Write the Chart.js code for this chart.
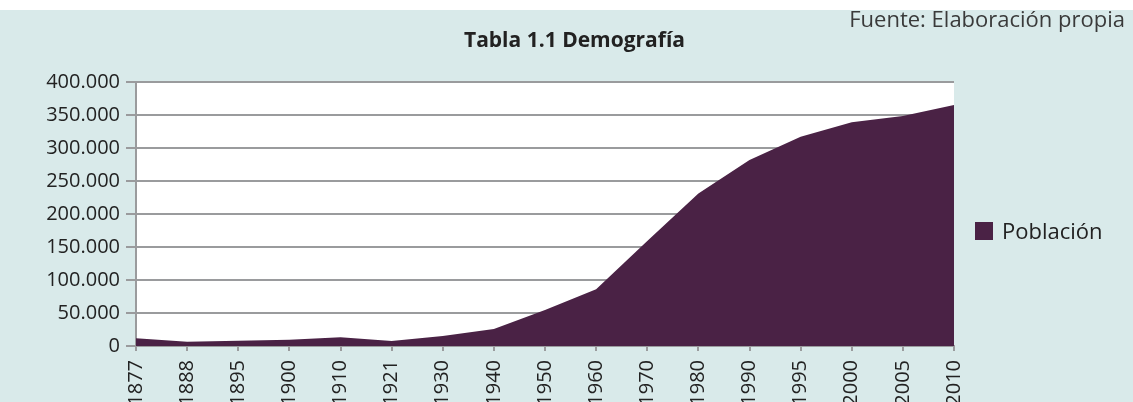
<!DOCTYPE html>
<html>
<head>
<meta charset="utf-8">
<script src="https://cdn.jsdelivr.net/npm/chart.js@4.4.1/dist/chart.umd.min.js"></script>
<style>
  html, body { margin: 0; padding: 0; background: #ffffff; }
  #wrap { position: absolute; left: 0; top: 10px; width: 1133px; height: 392px; background: #d9eaea; overflow: hidden; }
  #demografia { position: absolute; left: 0; top: 0; }
  #fuente { position: absolute; right: 8px; top: 1px; font: 22px "Open Sans", sans-serif; line-height: 14px; color: #3a3a3a; white-space: nowrap; }
  #legend { position: absolute; left: 975px; top: 209px; font: 22px "Open Sans", sans-serif; line-height: 22px; color: #222; white-space: nowrap; }
  #legend span.box { position: absolute; left: 0; top: 3px; width: 18px; height: 18px; background: #4a2245; }
  #legend span.txt { position: absolute; left: 27px; top: 0; }
</style>
</head>
<body>
<div id="wrap">
  <canvas id="demografia" width="1133" height="392"></canvas>
  <div id="fuente">Fuente: Elaboración propia</div>
  <div id="legend"><span class="box"></span><span class="txt">Población</span></div>
</div>
<script>
// datos
var years = ['1877', '1888', '1895', '1900', '1910', '1921', '1930', '1940', '1950',
             '1960', '1970', '1980', '1990', '1995', '2000', '2005', '2010'];
var poblacion = [11600, 6500, 8000, 9500, 13200, 7600, 15200, 25800, 54500,
                 86000, 159000, 231000, 282000, 317000, 339000, 348500, 365000];
var yMax = 400000;
var yStep = 50000;

function miles(v) {
    return String(v).replace(/\B(?=(\d{3})+(?!\d))/g, '.');
}

var fondoBlanco = {
    id: 'fondoBlanco',
    beforeDraw(chart) {
        var a = chart.chartArea;
        var ctx = chart.ctx;
        ctx.save();
        ctx.fillStyle = '#ffffff';
        ctx.fillRect(a.left, a.top, a.right - a.left, a.bottom - a.top);
        ctx.restore();
    }
};

var ctx = document.getElementById('demografia');
new Chart(ctx, {
    type: 'line',
    data: {
        labels: years,
        datasets: [{
            label: 'Población',
            data: poblacion,
            fill: 'origin',
            backgroundColor: '#4a2245',
            borderWidth: 0,
            pointRadius: 0,
            tension: 0
        }]
    },
    options: {
        responsive: false,
        animation: false,
        layout: { padding: { left: 16, right: 0, top: 0, bottom: 0 } },
        plugins: {
            legend: { display: false },
            tooltip: { enabled: false },
            title: {
                display: true,
                text: 'Tabla 1.1 Demografía',
                color: '#222',
                font: { family: 'Open Sans', size: 21, weight: 'bold', lineHeight: 1.2 },
                padding: { top: 18, bottom: 28.8 }
            }
        },
        scales: {
            x: {
                offset: false,
                grid: { drawOnChartArea: false, drawTicks: true, tickLength: 5, color: '#9a9b9d', lineWidth: 2 },
                border: { color: '#9a9b9d', width: 2 },
                ticks: {
                    autoSkip: false,
                    minRotation: 90,
                    maxRotation: 90,
                    padding: 9,
                    color: '#222',
                    font: { family: 'Open Sans', size: 20 }
                },
                afterFit(scale) { scale.height = 56; }
            },
            y: {
                min: 0,
                max: yMax,
                grid: { color: '#9a9b9d', lineWidth: 2, tickLength: 10 },
                border: { color: '#9a9b9d', width: 2 },
                ticks: {
                    stepSize: yStep,
                    padding: 6,
                    color: '#222',
                    font: { family: 'Open Sans', size: 20 },
                    callback: function (v) { return miles(v); }
                },
                afterFit(scale) { scale.width = 120; }
            },
            // eje vacio a la derecha: deja sitio para la leyenda
            margen: {
                position: 'right',
                grid: { drawOnChartArea: false, drawTicks: false },
                border: { display: false },
                ticks: { display: false },
                afterFit(scale) { scale.width = 179; }
            }
        }
    },
    plugins: [fondoBlanco]
});
</script>
</body>
</html>
